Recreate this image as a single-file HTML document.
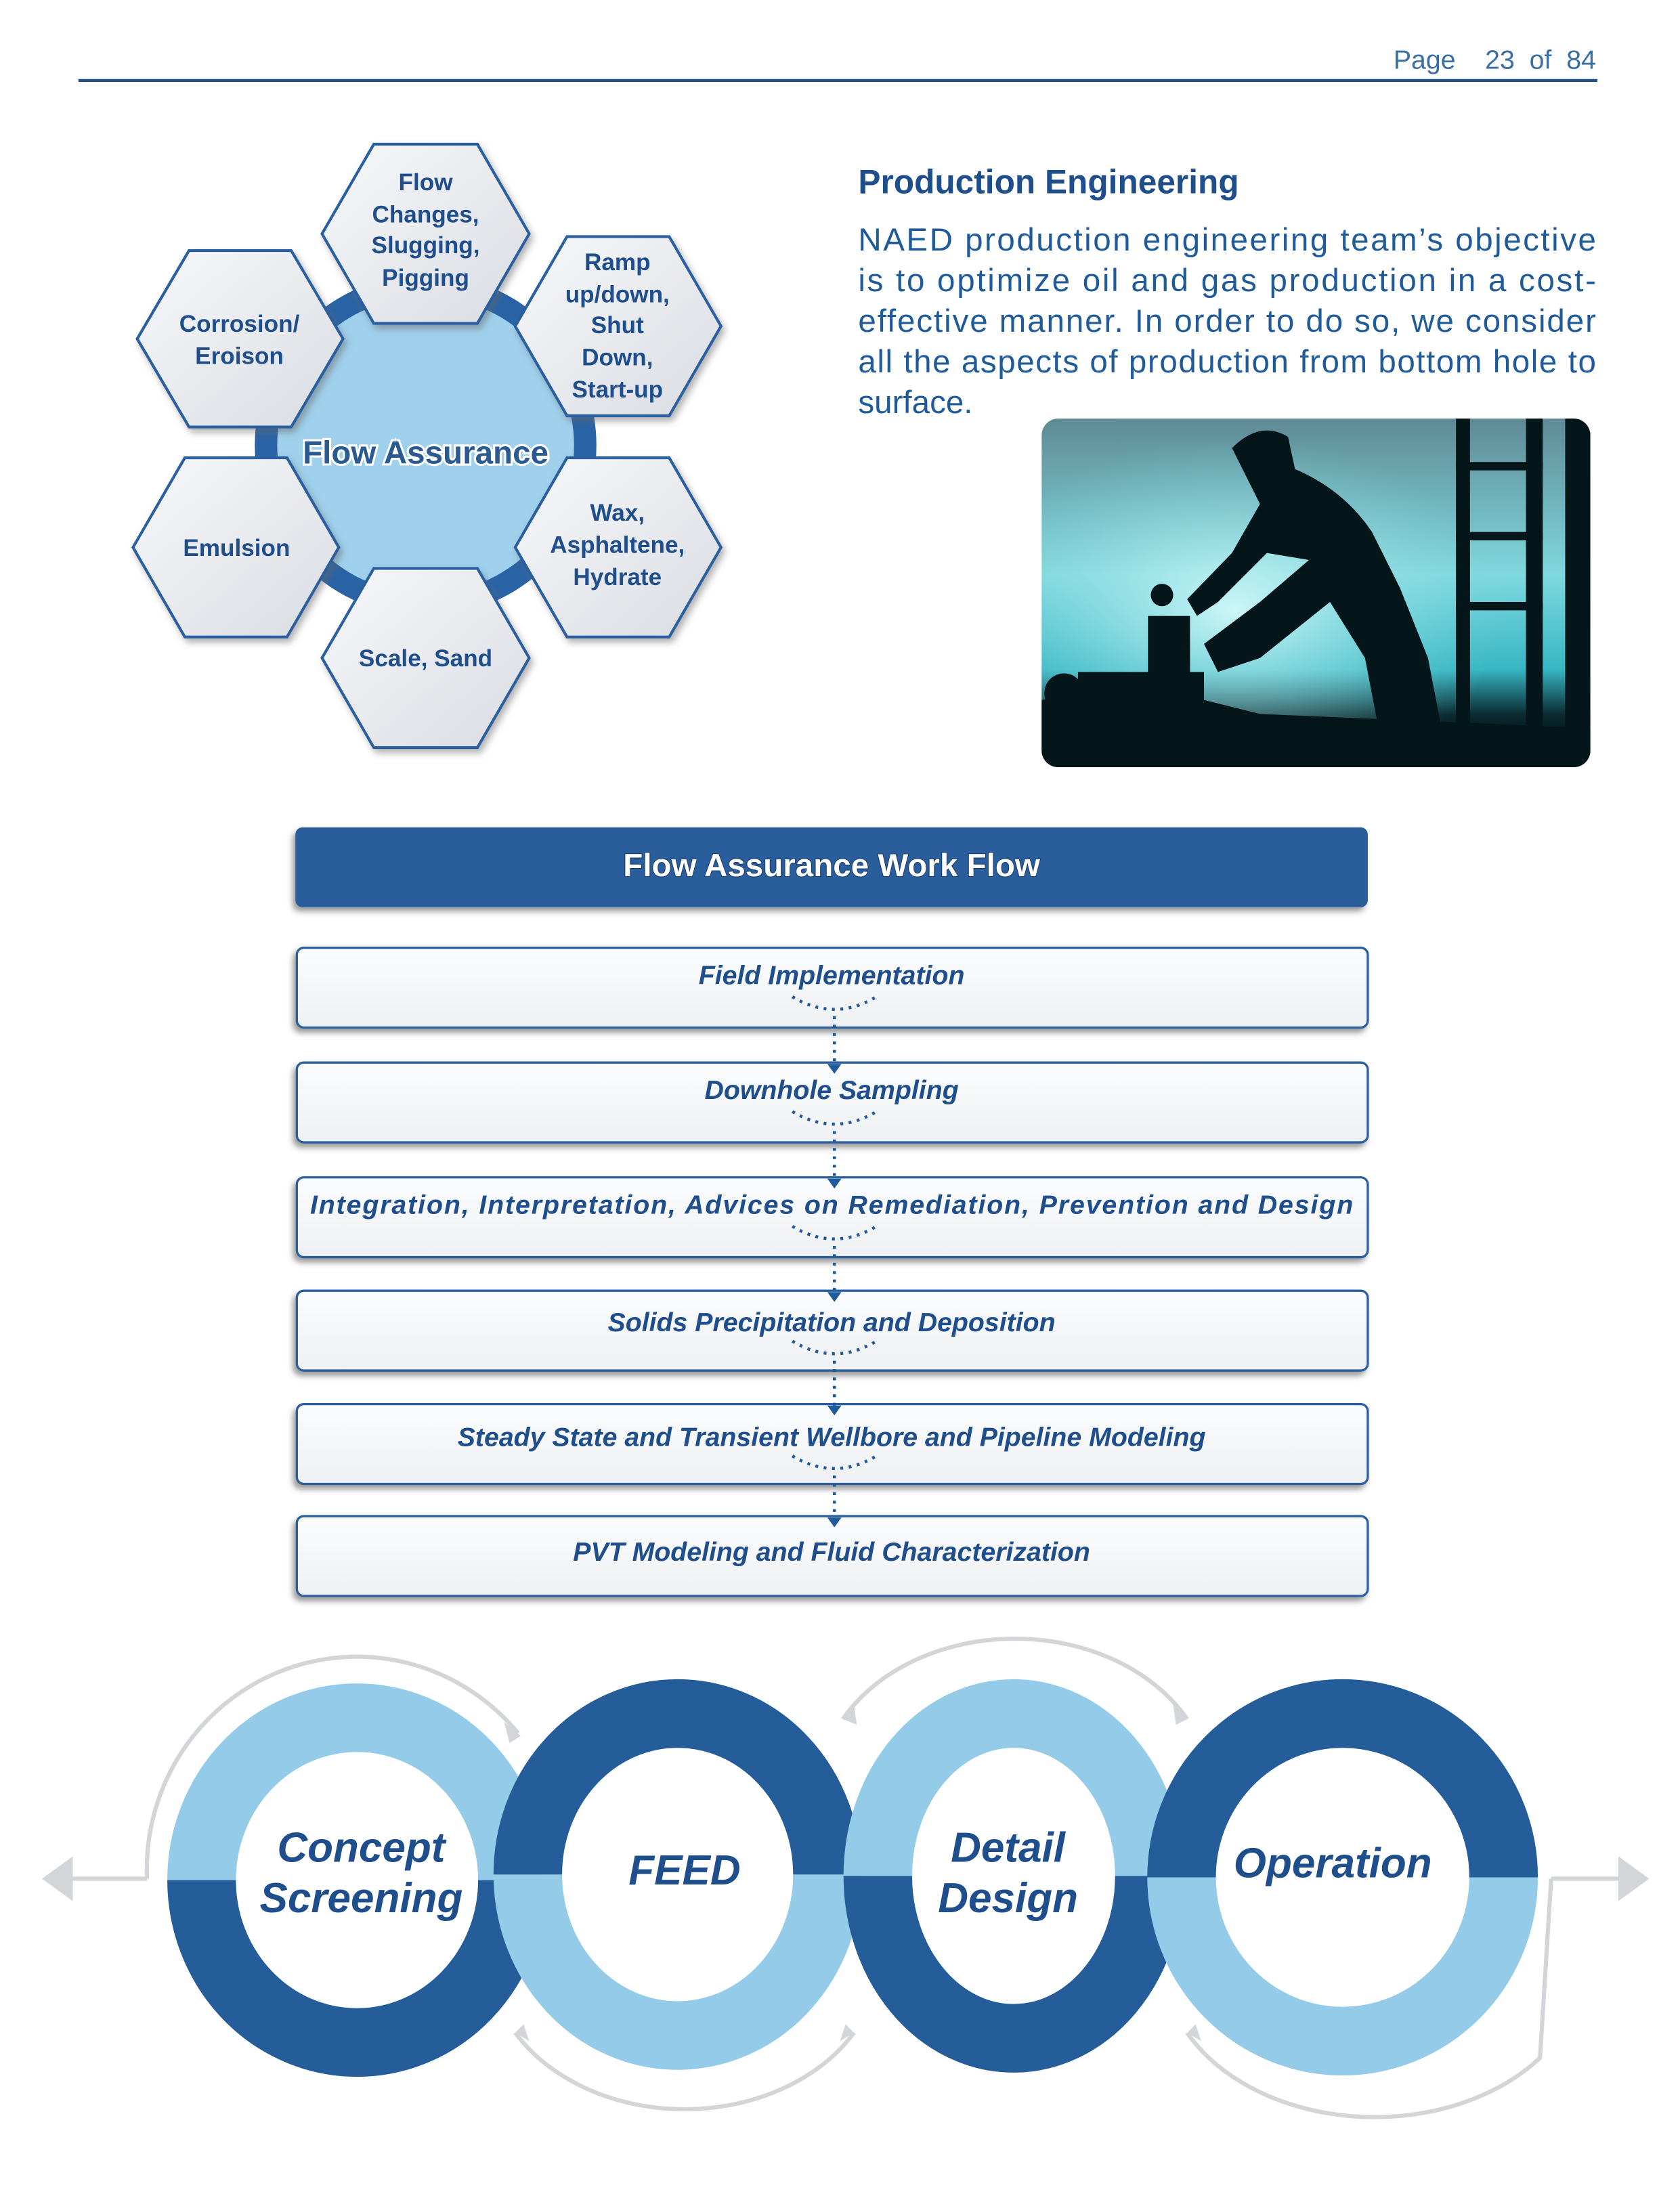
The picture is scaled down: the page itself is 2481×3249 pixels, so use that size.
<!DOCTYPE html>
<html><head><meta charset="utf-8"><style>
html,body{margin:0;padding:0;background:#fff;}
svg{display:block;}
</style></head><body>
<svg width="2481" height="3249" viewBox="0 0 1200 1571.5" xmlns="http://www.w3.org/2000/svg" font-family="Liberation Sans, sans-serif">
<defs>
<linearGradient id="hexg" x1="0" y1="0" x2="1" y2="1"><stop offset="0" stop-color="#f7f8fa"/><stop offset="1" stop-color="#d9dce2"/></linearGradient>
<linearGradient id="boxg" x1="0" y1="0" x2="0" y2="1"><stop offset="0" stop-color="#fbfcfd"/><stop offset="1" stop-color="#eef0f3"/></linearGradient>
<linearGradient id="photo" x1="0" y1="0" x2="0" y2="1"><stop offset="0" stop-color="#5f8a94"/><stop offset="0.45" stop-color="#7fd8de"/><stop offset="0.72" stop-color="#36b6c3"/><stop offset="0.85" stop-color="#0a2a30"/><stop offset="1" stop-color="#000"/></linearGradient>
<radialGradient id="sun" cx="0.35" cy="0.55" r="0.5"><stop offset="0" stop-color="#d8fbfb" stop-opacity="0.9"/><stop offset="1" stop-color="#7fd8de" stop-opacity="0"/></radialGradient>
<filter id="sh" x="-5%" y="-20%" width="110%" height="150%"><feDropShadow dx="-2" dy="3" stdDeviation="2" flood-color="#555" flood-opacity="0.6"/></filter>
<filter id="sh2" x="-10%" y="-10%" width="120%" height="120%"><feDropShadow dx="2" dy="3" stdDeviation="2.5" flood-color="#666" flood-opacity="0.5"/></filter>
</defs>

<text x="1140" y="49" text-anchor="end" font-size="19" fill="#3a6ea5">Page &#160;&#160;&#160;23 &#160;of &#160;84</text>
<line x1="56" y1="57.5" x2="1141" y2="57.5" stroke="#1f4e8c" stroke-width="2"/>

<circle cx="304" cy="318" r="122" fill="#2a63a5"/>
<circle cx="304" cy="318" r="106" fill="#9fd0ec"/>
<g stroke="#2a5fa0" stroke-width="2" fill="url(#hexg)" filter="url(#sh2)">
<polygon points="230,167 267,103 341,103 378,167 341,231 267,231"/>
<polygon points="368,233 405,169 478,169 515,233 478,297 405,297"/>
<polygon points="368,391 405,327 478,327 515,391 478,455 405,455"/>
<polygon points="230,470 267,406 341,406 378,470 341,534 267,534"/>
<polygon points="95,391 132,327 205,327 242,391 205,455 132,455"/>
<polygon points="98,242 135,179 208,179 245,242 208,305 135,305"/>
</g>
<g font-weight="bold" font-size="17" fill="#1f4e8c" text-anchor="middle">
<text x="304" y="136">Flow</text><text x="304" y="159">Changes,</text><text x="304" y="181">Slugging,</text><text x="304" y="204">Pigging</text>
<text x="441" y="193">Ramp</text><text x="441" y="216">up/down,</text><text x="441" y="238">Shut</text><text x="441" y="261">Down,</text><text x="441" y="284">Start-up</text>
<text x="441" y="372">Wax,</text><text x="441" y="395">Asphaltene,</text><text x="441" y="418">Hydrate</text>
<text x="304" y="476">Scale, Sand</text>
<text x="169" y="397">Emulsion</text>
<text x="171" y="237">Corrosion/</text><text x="171" y="260">Eroison</text>
</g>
<text x="304" y="331" text-anchor="middle" font-size="23" font-weight="bold" fill="#2a5a92" stroke="#fff" stroke-width="3" paint-order="stroke">Flow Assurance</text>

<text x="613" y="138" font-size="24" font-weight="bold" fill="#1f4e8c">Production Engineering</text>
<g font-size="23" fill="#1f5a9a">
<text x="613" y="179" textLength="527" lengthAdjust="spacing">NAED production engineering team’s objective</text>
<text x="613" y="208" textLength="527" lengthAdjust="spacing">is to optimize oil and gas production in a cost-</text>
<text x="613" y="237" textLength="527" lengthAdjust="spacing">effective manner. In order to do so, we consider</text>
<text x="613" y="266" textLength="527" lengthAdjust="spacing">all the aspects of production from bottom hole to</text>
<text x="613" y="295">surface.</text>
</g>

<clipPath id="pc"><rect x="744" y="299" width="392" height="249" rx="12"/></clipPath>
<g clip-path="url(#pc)">
<rect x="744" y="299" width="392" height="249" fill="url(#photo)"/>
<rect x="744" y="299" width="392" height="249" fill="url(#sun)"/>
<g fill="#05161a">
<rect x="1040" y="299" width="10" height="249"/><rect x="1090" y="299" width="12" height="249"/><rect x="1118" y="299" width="18" height="249"/>
<rect x="1040" y="330" width="62" height="6"/><rect x="1040" y="380" width="62" height="6"/><rect x="1040" y="430" width="62" height="6"/>
<path d="M880 320 Q900 300 920 312 L925 335 Q960 350 980 380 L1000 420 L1020 470 L1035 548 L990 548 L975 470 L950 430 L900 470 L870 480 L860 460 L900 430 L935 400 L905 395 L870 430 L855 440 L848 428 L880 395 L900 360 Z"/>
<path d="M744 500 Q800 490 860 500 L900 510 L1136 520 L1136 548 L744 548 Z"/>
<rect x="820" y="440" width="30" height="80"/><circle cx="830" cy="425" r="8"/><circle cx="760" cy="495" r="14"/>
<rect x="770" y="480" width="90" height="25"/>
</g>
</g>

<rect x="211" y="591" width="766" height="57" rx="5" fill="#2b5d9b" filter="url(#sh)"/>
<text x="594" y="626" text-anchor="middle" font-size="23" font-weight="bold" fill="#fff" stroke="#1a3d6a" stroke-width="1" paint-order="stroke">Flow Assurance Work Flow</text>
<g stroke="#2a5fa0" stroke-width="1.6" fill="url(#boxg)" filter="url(#sh)">
<rect x="212" y="677" width="765" height="57" rx="5"/>
<rect x="212" y="759" width="765" height="57" rx="5"/>
<rect x="212" y="841" width="765" height="57" rx="5"/>
<rect x="212" y="922" width="765" height="57" rx="5"/>
<rect x="212" y="1003" width="765" height="57" rx="5"/>
<rect x="212" y="1083" width="765" height="57" rx="5"/>
</g>
<g font-size="19" font-weight="bold" font-style="italic" fill="#1f4e8c" text-anchor="middle">
<text x="594" y="703">Field Implementation</text>
<text x="594" y="785">Downhole Sampling</text>
<text x="594" y="867" textLength="745" lengthAdjust="spacing">Integration, Interpretation, Advices on Remediation, Prevention and Design</text>
<text x="594" y="951">Solids Precipitation and Deposition</text>
<text x="594" y="1033">Steady State and Transient Wellbore and Pipeline Modeling</text>
<text x="594" y="1115">PVT Modeling and Fluid Characterization</text>
</g>
<g stroke="#1f5a9a" stroke-width="2.2" fill="none" stroke-dasharray="2 4">
<path d="M566 712 Q596 730 626 712"/><line x1="596" y1="726" x2="596" y2="760"/>
<path d="M566 794 Q596 812 626 794"/><line x1="596" y1="808" x2="596" y2="842"/>
<path d="M566 876 Q596 894 626 876"/><line x1="596" y1="890" x2="596" y2="923"/>
<path d="M566 958 Q596 976 626 958"/><line x1="596" y1="972" x2="596" y2="1004"/>
<path d="M566 1040 Q596 1058 626 1040"/><line x1="596" y1="1054" x2="596" y2="1084"/>
</g>
<g fill="#1f5a9a">
<polygon points="591,760 601,760 596,767"/><polygon points="591,842 601,842 596,849"/><polygon points="591,923 601,923 596,930"/><polygon points="591,1004 601,1004 596,1011"/><polygon points="591,1084 601,1084 596,1091"/>
</g>

<!-- cycle -->
<g fill="none" stroke="#d3d5d8" stroke-width="3">
<path d="M105 1342 A150 152 0 0 1 370 1238"/>
<path d="M602 1228 A140 110 0 0 1 848 1228"/>
<path d="M368 1452 A140 110 0 0 0 610 1452"/>
<path d="M848 1452 A150 110 0 0 0 1100 1470 L1108 1342"/>
<line x1="40" y1="1342" x2="105" y2="1342"/><line x1="1108" y1="1342" x2="1168" y2="1342"/>
</g>
<g fill="#d3d5d8">
<polygon points="30,1342 52,1326 52,1358"/><polygon points="1178,1342 1156,1326 1156,1358"/>
<polygon points="372,1240 360,1230 364,1245"/><polygon points="848,1228 838,1218 840,1232"/><polygon points="602,1228 610,1218 612,1232"/>
<polygon points="368,1452 378,1458 374,1446"/><polygon points="610,1452 600,1458 604,1446"/><polygon points="848,1452 858,1458 854,1446"/>
</g>
<g fill="none" stroke-width="49">
<path d="M144 1343 A111 116 0 0 1 366 1343" stroke="#93cbe8"/>
<path d="M144 1343 A111 116 0 0 0 366 1343" stroke="#245d9a"/>
<path d="M377 1339 A107 115 0 0 1 591 1339" stroke="#245d9a"/>
<path d="M377 1339 A107 115 0 0 0 591 1339" stroke="#93cbe8"/>
<path d="M627 1340 A97 116 0 0 1 821 1340" stroke="#93cbe8"/>
<path d="M627 1340 A97 116 0 0 0 821 1340" stroke="#245d9a"/>
<path d="M844 1341 A115 117 0 0 1 1074 1341" stroke="#245d9a"/>
<path d="M844 1341 A115 117 0 0 0 1074 1341" stroke="#93cbe8"/>
</g>
<g font-size="30" font-weight="bold" font-style="italic" fill="#1f4e8c" text-anchor="middle">
<text x="258" y="1330">Concept</text><text x="258" y="1366">Screening</text>
<text x="489" y="1346">FEED</text>
<text x="720" y="1330">Detail</text><text x="720" y="1366">Design</text>
<text x="952" y="1341">Operation</text>
</g>
</svg>
</body></html>
